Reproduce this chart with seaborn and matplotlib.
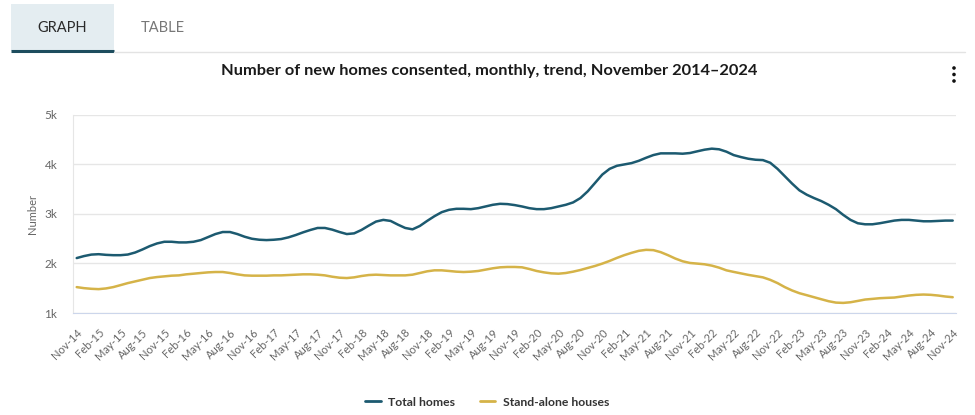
import pandas as pd
import seaborn as sns
import matplotlib.pyplot as plt
from matplotlib.patches import Rectangle, Circle
from matplotlib.lines import Line2D

# Monthly trend values, Nov 2014 .. Nov 2024
months = pd.date_range("2014-11-01", "2024-11-01", freq="MS")

total_homes = [
    2110, 2150, 2180, 2188, 2175, 2168, 2168, 2181, 2222, 2283, 2351, 2405,
    2439, 2439, 2426, 2426, 2439, 2473, 2534, 2595, 2636, 2636, 2595, 2541,
    2500, 2480, 2473, 2480, 2494, 2528, 2575, 2629, 2677, 2718, 2718, 2684,
    2636, 2595, 2609, 2677, 2765, 2847, 2881, 2860, 2785, 2718, 2690, 2758,
    2860, 2955, 3037, 3084, 3105, 3105, 3098, 3118, 3152, 3186, 3206, 3200,
    3180, 3152, 3118, 3098, 3098, 3118, 3152, 3186, 3234, 3322, 3458, 3627,
    3797, 3912, 3974, 4001, 4028, 4075, 4136, 4191, 4225, 4225, 4225, 4218,
    4232, 4266, 4299, 4320, 4307, 4259, 4190, 4150, 4116, 4096, 4089, 4035,
    3912, 3763, 3614, 3478, 3390, 3322, 3261, 3186, 3098, 2982, 2881, 2813,
    2792, 2792, 2813, 2840, 2867, 2881, 2881, 2867, 2853, 2853, 2860, 2867,
    2867,
]

standalone_houses = [
    1523, 1502, 1489, 1482, 1496, 1523, 1563, 1604, 1638, 1672, 1706, 1726,
    1740, 1754, 1760, 1781, 1794, 1808, 1821, 1828, 1828, 1808, 1781, 1760,
    1754, 1754, 1754, 1760, 1760, 1767, 1774, 1781, 1781, 1774, 1760, 1733,
    1713, 1706, 1720, 1747, 1767, 1774, 1767, 1760, 1760, 1760, 1774, 1808,
    1842, 1862, 1862, 1849, 1835, 1828, 1835, 1849, 1876, 1903, 1923, 1930,
    1930, 1923, 1889, 1849, 1821, 1801, 1794, 1808, 1835, 1869, 1910, 1950,
    1998, 2052, 2113, 2168, 2215, 2256, 2276, 2270, 2229, 2168, 2100, 2045,
    2011, 1998, 1984, 1957, 1916, 1862, 1830, 1800, 1770, 1745, 1720, 1670,
    1604, 1523, 1455, 1400, 1360, 1319, 1278, 1238, 1210, 1204, 1217, 1244,
    1272, 1285, 1299, 1306, 1312, 1333, 1353, 1367, 1373, 1367, 1353, 1333,
    1319,
]

series_names = ["Total homes", "Stand-alone houses"]
colors = ["#1c5a70", "#d5b348"]
y_ticks = [1000, 2000, 3000, 4000, 5000]
y_tick_labels = ["1k", "2k", "3k", "4k", "5k"]

df = pd.DataFrame({
    "m": list(range(len(months))) * 2,
    "value": total_homes + standalone_houses,
    "series": [series_names[0]] * len(months) + [series_names[1]] * len(months),
})

sns.set_style("white")
plt.rcParams["font.family"] = ["Lato", "DejaVu Sans"]

W, H = 975, 415
fig = plt.figure(figsize=(W / 100, H / 100), dpi=100)

# overlay for the page furniture (tabs, menu dots) in pixel coords
bg = fig.add_axes([0, 0, 1, 1])
bg.set_xlim(0, W)
bg.set_ylim(H, 0)
bg.axis("off")
bg.add_patch(Rectangle((11, 4), 103, 47, color="#e4edf1", lw=0))
bg.plot([11, 114], [51, 51], color="#1d4d5e", lw=2.2, solid_capstyle="butt")
bg.plot([114, 965], [52.5, 52.5], color="#e3e3e3", lw=1)
bg.text(62, 28, "GRAPH", ha="center", va="center", fontsize=10.5, color="#2a2a2a")
bg.text(163, 28, "TABLE", ha="center", va="center", fontsize=10.5, color="#777777")
for yy in (68, 74.5, 81):
    bg.add_patch(Circle((954, yy), 1.8, color="#111111", lw=0))

# main chart
left, right, top, bottom = 72.7, 956, 115, 313
ax = fig.add_axes([left / W, 1 - bottom / H, (right - left) / W, (bottom - top) / H])
sns.lineplot(data=df, x="m", y="value", hue="series", palette=colors,
             linewidth=1.8, ax=ax, legend=False)

ax.set_xlim(-0.55, 120.45)
ax.set_ylim(1000, 5000)
ax.set_yticks(y_ticks)
ax.set_yticklabels(y_tick_labels)
tick_pos = list(range(0, len(months), 3))
ax.set_xticks(tick_pos)
ax.set_xticklabels([months[i].strftime("%b-%y") for i in tick_pos],
                   rotation=45, ha="right", rotation_mode="anchor")
ax.tick_params(axis="x", length=7, width=1, color="#ccd6eb", labelsize=8,
               labelcolor="#666666", pad=3)
ax.tick_params(axis="y", length=0, labelsize=8.5, labelcolor="#666666", pad=11)
ax.grid(axis="y", color="#e6e6e6", lw=1)
ax.set_axisbelow(True)
for s in ("top", "right"):
    ax.spines[s].set_visible(False)
ax.spines["left"].set_color("#e6e6e6")
ax.spines["bottom"].set_color("#ccd6eb")
ax.set_xlabel("")
ax.set_ylabel("Number", fontsize=8, color="#666666", labelpad=5)

fig.text(489 / W, 1 - 71 / H,
         "Number of new homes consented, monthly, trend, November 2014\u20132024",
         ha="center", va="center", fontsize=11.8, fontweight="bold", color="#1a1a1a")

handles = [Line2D([], [], color=c, lw=2) for c in colors]
fig.legend(handles, series_names, loc="center", bbox_to_anchor=(487 / W, 1 - 402 / H),
           ncol=2, frameon=False, handlelength=1.3, handletextpad=0.6, columnspacing=2,
           prop={"weight": "bold", "size": 8.8})
for t in fig.legends[0].get_texts():
    t.set_color("#333333")

fig.savefig("out.png", dpi=100)
